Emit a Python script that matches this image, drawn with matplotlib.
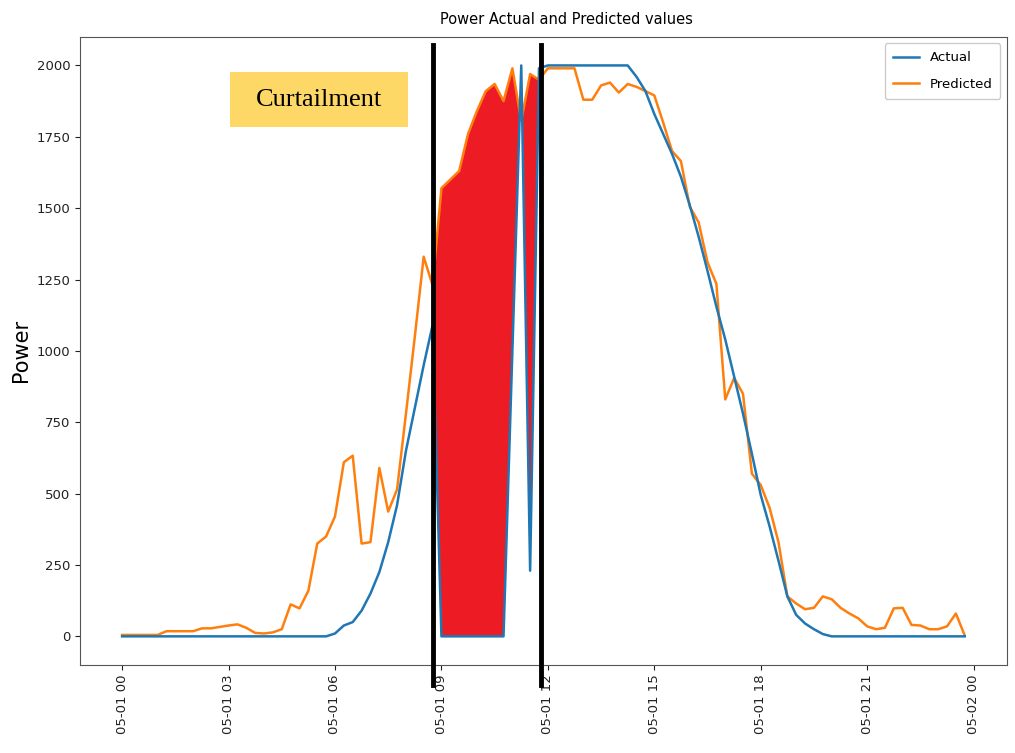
import matplotlib
matplotlib.use("Agg")
import matplotlib.pyplot as plt
import matplotlib.dates as mdates
import matplotlib.transforms as mtransforms
from matplotlib.patches import Rectangle
import numpy as np
import pandas as pd

# ---- data (15-minute steps over one day) ----
start_time = "2020-05-01 00:00"
n_points = 96

actual = [0] * 24 + [
    10, 38, 50, 90, 150, 225, 330, 460, 650, 800, 950, 1090,
    0, 0, 0, 0, 0, 0, 0, 0,
    1000, 2000, 230, 1990,
    2000, 2000, 2000, 2000, 2000, 2000, 2000, 2000, 2000, 2000,
    1960, 1910, 1830, 1760, 1690, 1610, 1510, 1400, 1280, 1155, 1040,
    910, 780, 640, 495, 385, 265, 140, 75, 45, 25, 8,
] + [0] * 16

predicted = [
    5, 5, 5, 5, 5, 18, 18, 18, 18, 28, 28, 33, 38, 42, 30, 12, 10, 14,
    25, 112, 98, 160, 325, 350, 420, 610, 633, 325, 330, 590, 437, 515,
    780, 1050, 1330, 1230,
    1570, 1600, 1630, 1760, 1840, 1910, 1935, 1875, 1990, 1805, 1970, 1950,
    1990, 1990, 1990, 1990, 1880, 1880, 1930, 1940, 1905, 1935, 1925, 1910,
    1895, 1800, 1700, 1665, 1505, 1450, 1310, 1235, 830, 905, 850, 570,
    530, 450, 330, 140, 115, 95, 100, 140, 130, 100, 80, 63, 35, 25, 30,
    98, 100, 40, 38, 25, 25, 35, 80, 3,
]

curtail_start_idx = 35
curtail_end_idx = 47
curtail_marks = ["2020-05-01 08:46", "2020-05-01 11:48"]

title = "Power Actual and Predicted values"
ylabel = "Power"
series_names = ["Actual", "Predicted"]
annot_text = "Curtailment"

# ---- plot ----
times = pd.date_range(start_time, periods=n_points, freq="15min")
actual_a = np.array(actual, dtype=float)
pred_a = np.array(predicted, dtype=float)
idx = np.arange(n_points)

fig = plt.figure(figsize=(10.15, 7.53), dpi=100)
ax = fig.add_axes([0.0788, 0.117, 0.992 - 0.0788, 0.951 - 0.117])

mask = (pred_a > actual_a) & (idx >= curtail_start_idx) & (idx <= curtail_end_idx)
ax.fill_between(times, actual_a, pred_a, where=mask, interpolate=True,
                color="#ED1C24", linewidth=0, zorder=1)

ax.plot(times, actual_a, color="#1f77b4", lw=1.8, label=series_names[0], zorder=3)
ax.plot(times, pred_a, color="#ff7f0e", lw=1.8, label=series_names[1], zorder=2)

ax.xaxis.set_major_locator(mdates.HourLocator(byhour=range(0, 24, 3)))
ax.xaxis.set_major_formatter(mdates.DateFormatter("%m-%d %H"))
for lab in ax.get_xticklabels():
    lab.set_rotation(90)
ax.tick_params(axis="both", labelsize=9.5, colors="#222222")
ax.set_yticks([0, 250, 500, 750, 1000, 1250, 1500, 1750, 2000])

ax.set_title(title, fontsize=10.5, pad=9, x=0.525)
ax.set_ylabel(ylabel, fontsize=15, labelpad=4)
for sp in ax.spines.values():
    sp.set_color("#555555")

leg = ax.legend(loc="upper right", fontsize=9.5, framealpha=1,
                labelspacing=1.0, borderpad=0.6)

# black vertical markers extending past axes
trans = mtransforms.blended_transform_factory(ax.transData, ax.transAxes)
for m in curtail_marks:
    xm = mdates.date2num(pd.Timestamp(m))
    ax.plot([xm, xm], [-0.032, 0.987], transform=trans, color="black",
            lw=3.5, clip_on=False, zorder=6)

# curtailment label box
ax.add_patch(Rectangle((0.162, 0.857), 0.192, 0.087, transform=ax.transAxes,
                       facecolor="#FDD866", edgecolor="none", zorder=5))
ax.text(0.258, 0.9, annot_text, transform=ax.transAxes, ha="center", va="center",
        fontsize=19, family="Liberation Serif", color="black", zorder=6)

fig.savefig("out.png", dpi=100)
